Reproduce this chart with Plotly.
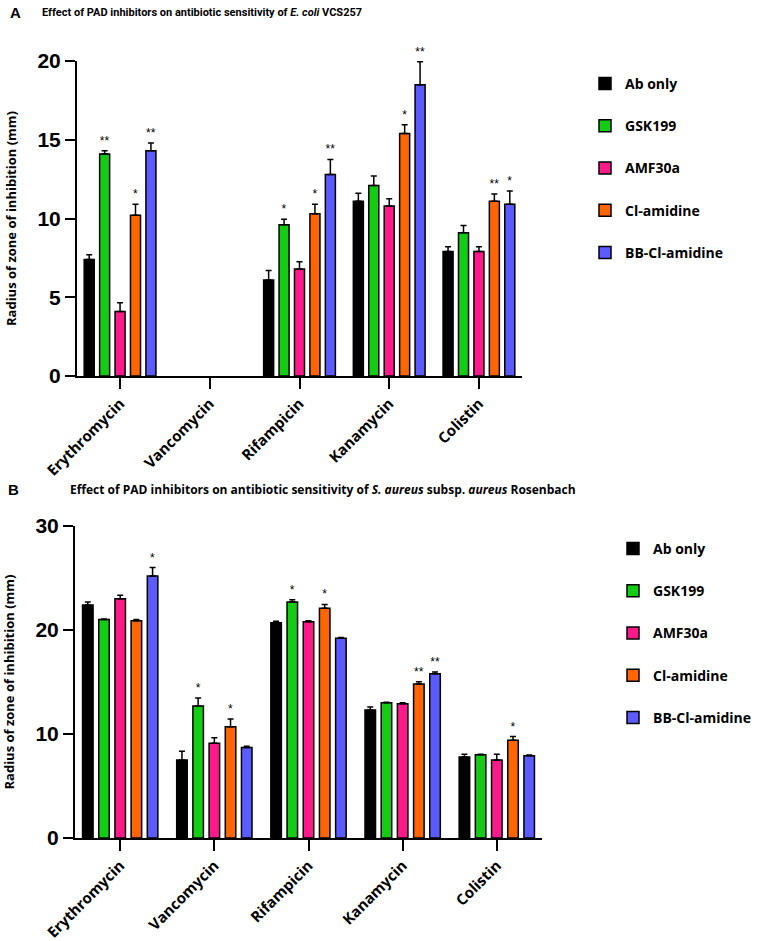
import plotly.graph_objects as go

W, H = 765, 941

antibiotics = ["Erythromycin", "Vancomycin", "Rifampicin", "Kanamycin", "Colistin"]
series = ["Ab only", "GSK199", "AMF30a", "Cl-amidine", "BB-Cl-amidine"]
colors = ["#000000", "#14cc14", "#ff1a8c", "#ff6600", "#5b5bff"]

# Panel A: E. coli VCS257 (values per series, in antibiotic order)
ecoli_mean = {
    "Ab only":       [7.4, 0, 6.1, 11.1, 7.9],
    "GSK199":        [14.1, 0, 9.6, 12.1, 9.1],
    "AMF30a":        [4.1, 0, 6.8, 10.8, 7.9],
    "Cl-amidine":    [10.2, 0, 10.3, 15.4, 11.1],
    "BB-Cl-amidine": [14.3, 0, 12.8, 18.5, 10.9],
}
ecoli_err = {
    "Ab only":       [0.3, 0, 0.6, 0.5, 0.3],
    "GSK199":        [0.2, 0, 0.35, 0.6, 0.45],
    "AMF30a":        [0.55, 0, 0.45, 0.45, 0.3],
    "Cl-amidine":    [0.7, 0, 0.6, 0.55, 0.45],
    "BB-Cl-amidine": [0.5, 0, 0.95, 1.45, 0.85],
}
ecoli_sig = {
    "Ab only":       ["", "", "", "", ""],
    "GSK199":        ["**", "", "*", "", ""],
    "AMF30a":        ["", "", "", "", ""],
    "Cl-amidine":    ["*", "", "*", "*", "**"],
    "BB-Cl-amidine": ["**", "", "**", "**", "*"],
}

# Panel B: S. aureus subsp. aureus Rosenbach
saureus_mean = {
    "Ab only":       [22.4, 7.5, 20.7, 12.3, 7.8],
    "GSK199":        [21.0, 12.7, 22.7, 13.0, 8.0],
    "AMF30a":        [23.0, 9.1, 20.8, 12.9, 7.5],
    "Cl-amidine":    [20.9, 10.7, 22.1, 14.8, 9.4],
    "BB-Cl-amidine": [25.2, 8.7, 19.2, 15.8, 7.9],
}
saureus_err = {
    "Ab only":       [0.3, 0.85, 0.15, 0.3, 0.25],
    "GSK199":        [0.05, 0.75, 0.2, 0.05, 0.05],
    "AMF30a":        [0.35, 0.55, 0.1, 0.1, 0.55],
    "Cl-amidine":    [0.1, 0.75, 0.35, 0.22, 0.35],
    "BB-Cl-amidine": [0.8, 0.12, 0.08, 0.15, 0.08],
}
saureus_sig = {
    "Ab only":       ["", "", "", "", ""],
    "GSK199":        ["", "*", "*", "", ""],
    "AMF30a":        ["", "", "", "", ""],
    "Cl-amidine":    ["", "*", "*", "**", "*"],
    "BB-Cl-amidine": ["*", "", "", "**", ""],
}

BAR_FONT = "Liberation Sans"
TXT_FONT = "Open Sans"

fig = go.Figure()


def add_panel(means, errs, sigs, xa, ya, legend):
    for name, col in zip(series, colors):
        vals = [v if v else None for v in means[name]]
        e = errs[name]
        fig.add_trace(go.Bar(
            x=antibiotics, y=vals, name=name,
            marker=dict(color=col, line=dict(color="black", width=1.5)),
            error_y=dict(type="data", symmetric=False, array=e,
                         arrayminus=[0] * len(e), color="black",
                         thickness=1.5, width=3),
            offsetgroup=name, legendgroup=legend + name, legend=legend,
            xaxis=xa, yaxis=ya,
        ))
        # invisible bar sitting on top of each error bar, carries the star text
        tops = [(v + er) if v else None for v, er in zip(means[name], e)]
        fig.add_trace(go.Bar(
            x=antibiotics, y=[0.01] * len(tops), base=tops,
            text=sigs[name], textposition="outside", constraintext="none",
            textfont=dict(size=12, color="black", family=BAR_FONT),
            marker=dict(color="rgba(0,0,0,0)", line=dict(width=0)),
            offsetgroup=name, showlegend=False, hoverinfo="skip",
            cliponaxis=False, xaxis=xa, yaxis=ya,
        ))


add_panel(ecoli_mean, ecoli_err, ecoli_sig, "x", "y", "legend")
add_panel(saureus_mean, saureus_err, saureus_sig, "x2", "y2", "legend2")

xcommon = dict(showline=True, linecolor="black", linewidth=2, ticks="outside",
               ticklen=11, tickwidth=2, tickcolor="black", tickangle=-45,
               tickfont=dict(family=TXT_FONT, size=15, color="black", weight="bold"),
               showgrid=False, zeroline=False, automargin=False)
ycommon = dict(showline=True, linecolor="black", linewidth=2, ticks="outside",
               ticklen=10, tickwidth=2, tickcolor="black",
               tickfont=dict(family=BAR_FONT, size=21, color="black", weight="bold"),
               showgrid=False, zeroline=False, automargin=False,
               title=dict(text="Radius of zone of inhibition (mm)",
                          font=dict(family=TXT_FONT, size=13, color="black", weight="bold"),
                          standoff=18))

legcommon = dict(xanchor="left", yanchor="top", tracegroupgap=21,
                 font=dict(family=TXT_FONT, size=14, color="black", weight="bold"),
                 bgcolor="rgba(0,0,0,0)", itemwidth=30)

fig.update_layout(
    width=W, height=H,
    margin=dict(l=0, r=0, t=0, b=0, autoexpand=False),
    plot_bgcolor="white", paper_bgcolor="white",
    barmode="group", bargap=0.14, bargroupgap=0.35,
    xaxis=dict(domain=[77 / W, 522 / W], anchor="y", range=[-0.48, 4.48], **xcommon),
    yaxis=dict(domain=[1 - 376 / H, 1 - 61 / H], anchor="x", range=[0, 20],
               tickvals=[0, 5, 10, 15, 20], **ycommon),
    xaxis2=dict(domain=[75 / W, 542 / W], anchor="y2", range=[-0.48, 4.48], **xcommon),
    yaxis2=dict(domain=[1 - 838 / H, 1 - 526 / H], anchor="x2", range=[0, 30],
                tickvals=[0, 10, 20, 30], **ycommon),
    legend=dict(x=585 / W, y=1 - 68 / H, **legcommon),
    legend2=dict(x=613 / W, y=1 - 533 / H, **legcommon),
    showlegend=True,
)

fig.add_annotation(text="<b>A</b>", xref="paper", yref="paper", x=8 / W, y=1 - 13 / H,
                   xanchor="left", yanchor="middle", showarrow=False,
                   font=dict(family=BAR_FONT, size=15, color="black"))
fig.add_annotation(text="<b>Effect of PAD inhibitors on antibiotic sensitivity of <i>E. coli</i> VCS257</b>",
                   xref="paper", yref="paper", x=40 / W, y=1 - 13 / H,
                   xanchor="left", yanchor="middle", showarrow=False,
                   font=dict(family="Roboto", size=11, color="black"))
fig.add_annotation(text="<b>B</b>", xref="paper", yref="paper", x=6 / W, y=1 - 489 / H,
                   xanchor="left", yanchor="middle", showarrow=False,
                   font=dict(family=BAR_FONT, size=15, color="black"))
fig.add_annotation(text="<b>Effect of PAD inhibitors on antibiotic sensitivity of <i>S. aureus</i> subsp. <i>aureus</i> Rosenbach</b>",
                   xref="paper", yref="paper", x=68 / W, y=1 - 489 / H,
                   xanchor="left", yanchor="middle", showarrow=False,
                   font=dict(family=TXT_FONT, size=12, color="black"))

# drop the default 8px page margin so the figure sits at the window's corner
fig.write_html("out.html", config={"displayModeBar": False},
               post_script="document.body.style.margin='0';")
